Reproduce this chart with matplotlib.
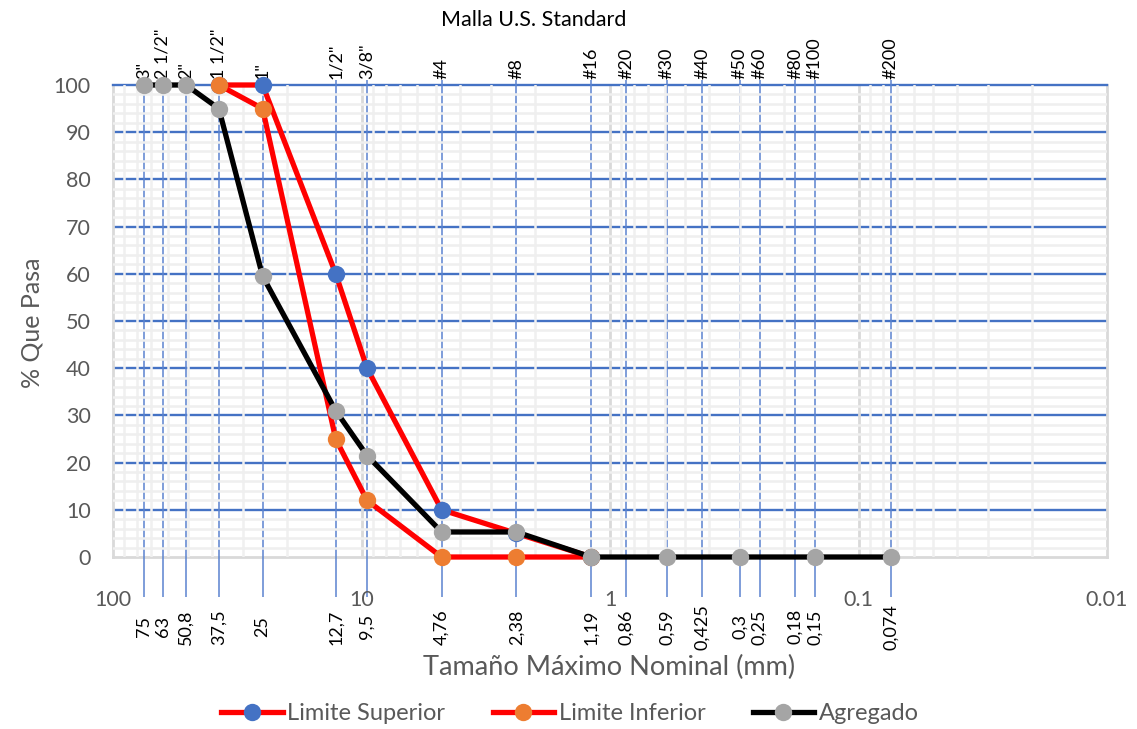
import matplotlib.pyplot as plt
from matplotlib.ticker import FixedLocator, FixedFormatter, LogLocator, MultipleLocator, NullFormatter

plt.rcParams['font.family'] = ['Lato', 'DejaVu Sans']

# sieve series (US standard) and opening in mm
sieve_names = ['3"', '2 1/2"', '2"', '1 1/2"', '1"', '1/2"', '3/8"', '#4', '#8',
               '#16', '#20', '#30', '#40', '#50', '#60', '#80', '#100', '#200']
sieve_mm = [75, 63, 50.8, 37.5, 25, 12.7, 9.5, 4.76, 2.38,
            1.19, 0.86, 0.59, 0.425, 0.3, 0.25, 0.18, 0.15, 0.074]
sieve_mm_text = ['75', '63', '50,8', '37,5', '25', '12,7', '9,5', '4,76', '2,38',
                 '1,19', '0,86', '0,59', '0,425', '0,3', '0,25', '0,18', '0,15', '0,074']

# grading limits
lim_mm = [37.5, 25, 12.7, 9.5, 4.76, 2.38, 1.19]
lim_sup = [100, 100, 60, 40, 10, 5, 0]
lim_inf = [100, 95, 25, 12, 0, 0, 0]

# aggregate curve
agr_mm = [75, 63, 50.8, 37.5, 25, 12.7, 9.5, 4.76, 2.38, 1.19, 0.59, 0.3, 0.15, 0.074]
agr = [100, 100, 100, 95, 59.5, 31, 21.5, 5.3, 5.3, 0, 0, 0, 0, 0]

decades = [100, 10, 1, 0.1, 0.01]
decade_text = ['100', '10', '1', '0.1', '0.01']

BLUE = '#4472C4'
ORANGE = '#ED7D31'
GRAYM = '#A5A5A5'
TXT = '#595959'

fig = plt.figure(figsize=(11.37, 7.29), dpi=100)
ax = fig.add_axes([113/1137, 1-557/729, 994/1137, 472/729])

ax.set_xscale('log')
ax.set_xlim(100, 0.01)
ax.set_ylim(0, 100)

# horizontal grid: light every 2, blue every 10
ax.yaxis.set_minor_locator(MultipleLocator(2))
ax.grid(which='minor', axis='y', color='#EFEFEF', lw=1.8, zorder=0)
for y in range(10, 100, 10):
    ax.axhline(y, color=BLUE, lw=1.7, zorder=1)

# vertical log grid drawn over the blue lines
ax.xaxis.set_minor_locator(LogLocator(base=10, subs=range(2, 10)))
ax.xaxis.set_minor_formatter(NullFormatter())
ax.grid(which='minor', axis='x', color='#F0F0F0', lw=1.8, zorder=1.2)
for d in decades:
    ax.axvline(d, color='#D9D9D9', lw=2, zorder=1.3, clip_on=False)
ax.axhline(0, color='#D9D9D9', lw=2, zorder=1.3, clip_on=False)
ax.axhline(100, color=BLUE, lw=1.7, zorder=1.4, clip_on=False)

# sieve lines with labels above and below
ax.vlines(sieve_mm, -0.085, 1.011, transform=ax.get_xaxis_transform(),
          color='#5B83CF', lw=1.1, clip_on=False, zorder=1.5)
for mm, name, txt in zip(sieve_mm, sieve_names, sieve_mm_text):
    ax.text(mm, 1.013, name, transform=ax.get_xaxis_transform(), rotation=90,
            ha='center', va='bottom', fontsize=13, color='black')
    ax.text(mm, -0.148, txt, transform=ax.get_xaxis_transform(), rotation=90,
            ha='center', va='center', fontsize=13, color='black')

mk = dict(marker='o', markersize=12.5, markeredgewidth=0, lw=3.8)
ax.plot(lim_mm, lim_sup, color='red', markerfacecolor=BLUE, zorder=3, clip_on=False,
        label='Limite Superior', **mk)
ax.plot(lim_mm, lim_inf, color='red', markerfacecolor=ORANGE, zorder=4, clip_on=False,
        label='Limite Inferior', **mk)
ax.plot(agr_mm, agr, color='black', markerfacecolor=GRAYM, zorder=5, clip_on=False,
        label='Agregado', **mk)

for s in ax.spines.values():
    s.set_visible(False)

ax.xaxis.set_major_locator(FixedLocator(decades))
ax.xaxis.set_major_formatter(FixedFormatter(decade_text))
ax.set_yticks(range(0, 101, 10))
ax.tick_params(which='both', length=0)
ax.tick_params(axis='x', pad=24, labelsize=15.5, labelcolor=TXT)
ax.tick_params(axis='y', pad=16, labelsize=15.5, labelcolor=TXT)

fig.text(534/1137, 1-20/729, 'Malla U.S. Standard', ha='center', va='center',
         fontsize=15.5, color='black')
fig.text(609/1137, 1-667/729, 'Tamaño Máximo Nominal (mm)', ha='center', va='center',
         fontsize=19.5, color=TXT)
fig.text(32/1137, 1-323/729, '% Que Pasa', ha='center', va='center', rotation=90,
         fontsize=18, color=TXT)

handles, labels = ax.get_legend_handles_labels()
fig.legend(handles, labels, loc='center', bbox_to_anchor=(570/1137, 1-714/729),
           ncol=3, frameon=False, fontsize=17, labelcolor=TXT,
           handlelength=2.6, handletextpad=0.2, columnspacing=2.0)

fig.savefig('out.png', dpi=100)
